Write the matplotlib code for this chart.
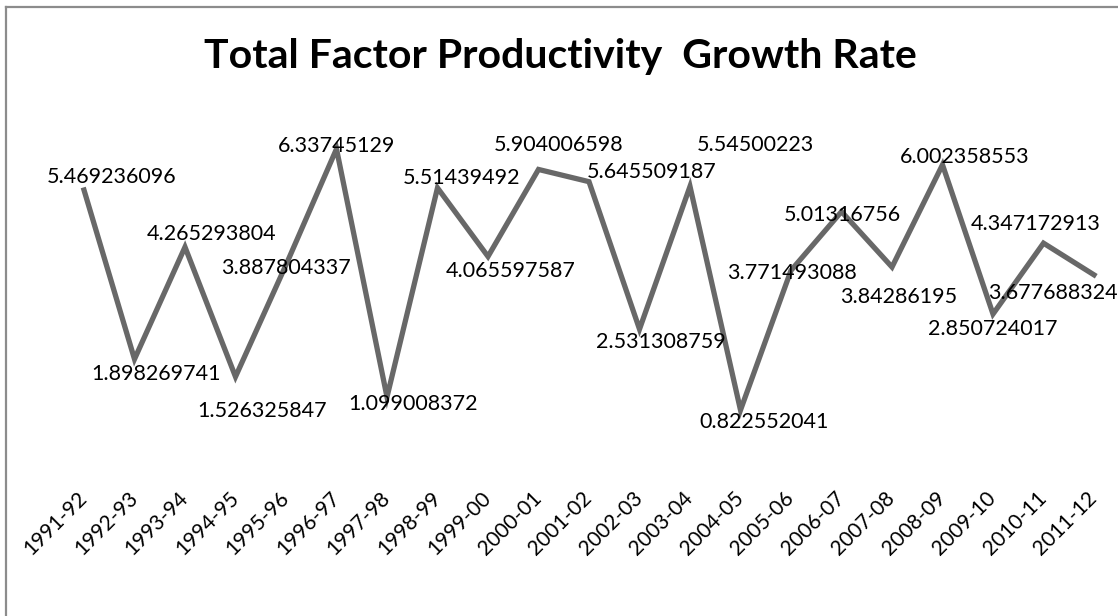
import matplotlib
matplotlib.use('Agg')
import matplotlib.pyplot as plt
from matplotlib.lines import Line2D

years = ['1991-92', '1992-93', '1993-94', '1994-95', '1995-96', '1996-97',
         '1997-98', '1998-99', '1999-00', '2000-01', '2001-02', '2002-03',
         '2003-04', '2004-05', '2005-06', '2006-07', '2007-08', '2008-09',
         '2009-10', '2010-11', '2011-12']
tfp_growth = [5.469236096, 1.898269741, 4.265293804, 1.526325847, 3.887804337,
              6.33745129, 1.099008372, 5.51439492, 4.065597587, 5.904006598,
              5.645509187, 2.531308759, 5.54500223, 0.822552041, 3.771493088,
              5.01316756, 3.84286195, 6.002358553, 2.850724017, 4.347172913,
              3.677688324]

# label offsets from each point, in pixels (dx right, dy down)
label_offsets = [(28, -13), (22, 15), (27, -13), (27, 34), (0, 3), (0, -3),
                 (26, 7), (24, -10), (23, 15), (20, -24), (63, -10), (21, 13),
                 (65, -41), (24, 12), (1, 3), (1, 3), (7, 30), (22, -8),
                 (0, 15), (-8, -19), (-41, 18)]

W, H = 1118, 616


def main():
    plt.rcParams['font.family'] = ['Lato', 'DejaVu Sans']
    fig = plt.figure(figsize=(W / 100, H / 100), dpi=100)
    fig.patch.set_facecolor('white')

    # plot area: value 0 at y=449px, 7 at y=117.5px; index 0 at x=84, 20 at x=1094
    x_left, x_right = 84 - 25.25, 1094 + 25.25
    y_bot, y_top = 449, 449 - 7 * 47.35
    ax = fig.add_axes([x_left / W, 1 - y_bot / H,
                       (x_right - x_left) / W, (y_bot - y_top) / H])
    ax.set_xlim(-0.5, 20.5)
    ax.set_ylim(0, 7)

    xs = list(range(len(years)))
    ax.plot(xs, tfp_growth, color='#686868', linewidth=3.8,
            solid_joinstyle='miter', clip_on=False)

    for x, v, (dx, dy) in zip(xs, tfp_growth, label_offsets):
        ax.annotate(str(v), (x, v), xytext=(dx, -dy), textcoords='offset pixels',
                    ha='center', va='center', fontsize=15.5, color='black',
                    annotation_clip=False)

    ax.set_xticks(xs)
    ax.set_xticklabels(years, rotation=45, ha='right', va='center',
                       rotation_mode='anchor', fontsize=15)
    ax.tick_params(axis='x', length=0, pad=33)
    ax.set_yticks([])
    for s in ax.spines.values():
        s.set_visible(False)
    ax.patch.set_visible(False)

    fig.text(560 / W, 1 - 68 / H, 'Total Factor Productivity  Growth Rate',
             ha='center', va='baseline', fontsize=29.5, fontweight='bold')

    # chart border (only left and top edges are inside the picture)
    fig.add_artist(Line2D([6 / W, 6 / W], [0, 1 - 7 / H], color='#8c8c8c', linewidth=1.6))
    fig.add_artist(Line2D([6 / W, 1], [1 - 7 / H, 1 - 7 / H], color='#8c8c8c', linewidth=1.6))

    fig.savefig('out.png', dpi=100)


if __name__ == "__main__":
    main()
